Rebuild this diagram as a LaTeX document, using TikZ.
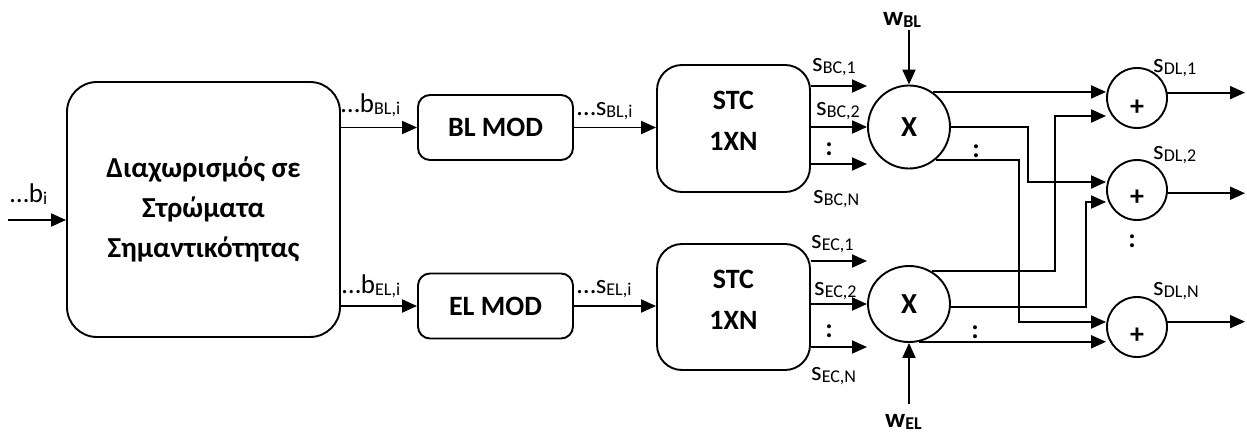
\documentclass[tikz,border=0pt]{standalone}
\usepackage{fontspec}
\setmainfont{Carlito}
\usetikzlibrary{arrows.meta,shapes.geometric}

% lowered, smaller subscript as used in the signal names
\newcommand\lsub[1]{\raisebox{-2pt}{\fontsize{18}{18}\selectfont #1}}

\tikzset{
  wire/.style={line width=1.9pt},
  arr/.style={wire,-{Triangle[length=15pt,width=13pt]}},
  blk/.style={draw,line width=1.9pt,inner sep=0pt,align=center,
              font=\bfseries\fontsize{28}{41}\selectfont},
  mixer/.style={draw,ellipse,line width=1.9pt,inner sep=0pt,
              minimum width=82pt,font=\bfseries\fontsize{29}{30}\selectfont},
  adder/.style={draw,circle,line width=1.9pt,inner sep=0pt,minimum size=60pt},
  btxt/.style={inner sep=0pt,align=center,font=\bfseries\fontsize{28}{41}\selectfont},
  lbl/.style={inner sep=0pt,anchor=base west,font=\fontsize{27}{30}\selectfont},
  wlbl/.style={lbl,font=\bfseries\fontsize{27}{30}\selectfont},
  vdots/.style={inner sep=0pt,font=\bfseries\fontsize{27}{30}\selectfont},
}

\begin{document}
\begin{tikzpicture}[x=1pt,y=-1pt]
  \fill[white] (0,0) rectangle (1247,434);
  \useasboundingbox (0,0) rectangle (1247,434);

  % layer separation
  \node[blk,rounded corners=30pt,minimum width=273pt,minimum height=255pt,
        font=\bfseries\fontsize{29}{40}\selectfont] (split) at (203.5,209.5)
        {Διαχωρισμός σε\\Στρώματα\\Σημαντικότητας};

  % modulators
  \node[blk,rounded corners=12pt,minimum width=155pt,minimum height=65pt] (blmod) at (495.5,127.5) {BL MOD};
  \node[blk,rounded corners=12pt,minimum width=155pt,minimum height=65pt] (elmod) at (495.5,306) {EL MOD};

  % space-time coders
  \node[blk,rounded corners=25pt,minimum width=153pt,minimum height=127pt] (stc1) at (733.5,128.5) {};
  \node[btxt] (stc1t) at ([yshift=8pt]stc1.center) {STC\\1XN};
  \node[blk,rounded corners=25pt,minimum width=153pt,minimum height=126pt] (stc2) at (733.5,307) {};
  \node[btxt] (stc2t) at ([yshift=7pt]stc2.center) {STC\\1XN};

  % weighting multipliers
  \node[mixer,minimum height=83pt] (x1) at (909,127) {X};
  \node[mixer,minimum height=76pt] (x2) at (909,304) {X};

  % adders
  \node[adder] (p1) at (1137,98) {};
  \node[adder] (p2) at (1137,190) {};
  \node[adder] (p3) at (1137,327) {};
  \node[btxt] (p1t) at ([yshift=-10pt]p1.center) {+};
  \node[btxt] (p2t) at ([yshift=-8pt]p2.center) {+};
  \node[btxt] (p3t) at ([yshift=-9pt]p3.center) {+};

  % free ends
  \coordinate (bin) at (8,220);
  \coordinate (bc1) at (867,86);
  \coordinate (bcn) at (867,164);
  \coordinate (ec1) at (867,261);
  \coordinate (ecn) at (867,347);
  \coordinate (wbin) at (909,30);
  \coordinate (wein) at (909,404);
  \coordinate (r2) at (1028,182);
  \coordinate (r3) at (1019,322);
  \coordinate (r4) at (1055,116);
  \coordinate (r5) at (1086,202);
  \coordinate (oend) at (1245,0);

  % input chain
  \draw[arr] (bin) -- (bin -| split.west);
  \draw[arr] (split.east |- blmod.west) -- (blmod.west);
  \draw[arr] (split.east |- elmod.west) -- (elmod.west);
  \draw[arr] (blmod.east) -- (blmod.east -| stc1.west);
  \draw[arr] (elmod.east) -- (elmod.east -| stc2.west);

  % coder outputs
  \draw[arr] (stc1.east |- bc1) -- (bc1);
  \draw[arr] (stc1.east |- x1.west) -- (x1.west);
  \draw[arr] (stc1.east |- bcn) -- (bcn);
  \draw[arr] (stc2.east |- ec1) -- (ec1);
  \draw[arr] (stc2.east |- x2.west) -- (x2.west);
  \draw[arr] (stc2.east |- ecn) -- (ecn);

  % weights
  \draw[arr] (wbin) -- (x1.north);
  \draw[arr] (wein) -- (x2.south);

  % multiplier to adder routing
  \draw[arr] (x1.56) -- (x1.56 -| p1.west);
  \draw[arr] (x1.east) -| (r2) -- (r2 -| p2.west);
  \draw[arr] (x1.-51) -| (r3) -- (r3 -| p3.west);
  \draw[arr] (x2.55) -| (r4) -- (r4 -| p1.west);
  \draw[arr] (x2.-4) -| (r5) -- (r5 -| p2.west);
  \draw[arr] (x2.-75) -- (x2.-75 -| p3.west);

  % adder outputs
  \draw[arr] (p1.10) -- (p1.10 -| oend);
  \draw[arr] (p2.-6) -- (p2.-6 -| oend);
  \draw[arr] (p3.10) -- (p3.10 -| oend);

  % signal labels
  \node[lbl] (lbi) at (10,202) {…b\lsub{i}};
  \node[lbl] (lbbl) at (341,112) {…b\lsub{BL,i}};
  \node[lbl] (lbel) at (342,293) {…b\lsub{EL,i}};
  \node[lbl] (lsbl) at (577,115) {…s\lsub{BL,i}};
  \node[lbl] (lsel) at (577,293) {…s\lsub{EL,i}};
  \node[lbl] (lbc1) at (812,71) {s\lsub{BC,1}};
  \node[lbl] (lbc2) at (816,115) {s\lsub{BC,2}};
  \node[lbl] (lbcn) at (813,203) {s\lsub{BC,N}};
  \node[lbl] (lec1) at (811,248) {s\lsub{EC,1}};
  \node[lbl] (lec2) at (814,295) {s\lsub{EC,2}};
  \node[lbl] (lecn) at (811,380) {s\lsub{EC,N}};
  \node[lbl] (ldl1) at (1153,72) {s\lsub{DL,1}};
  \node[lbl] (ldl2) at (1153,159) {s\lsub{DL,2}};
  \node[lbl] (ldln) at (1153,295) {s\lsub{DL,N}};
  \node[wlbl] (lwbl) at (883,25) {w\lsub{BL}};
  \node[wlbl] (lwel) at (885,427) {w\lsub{EL}};

  % continuation marks
  \node[vdots] (dbc) at (829,149) {:};
  \node[vdots] (dec) at (829,331) {:};
  \node[vdots] (dx1) at (976,151) {:};
  \node[vdots] (dx2) at (975,332) {:};
  \node[vdots] (dpl) at (1132,241) {:};
\end{tikzpicture}
\end{document}
